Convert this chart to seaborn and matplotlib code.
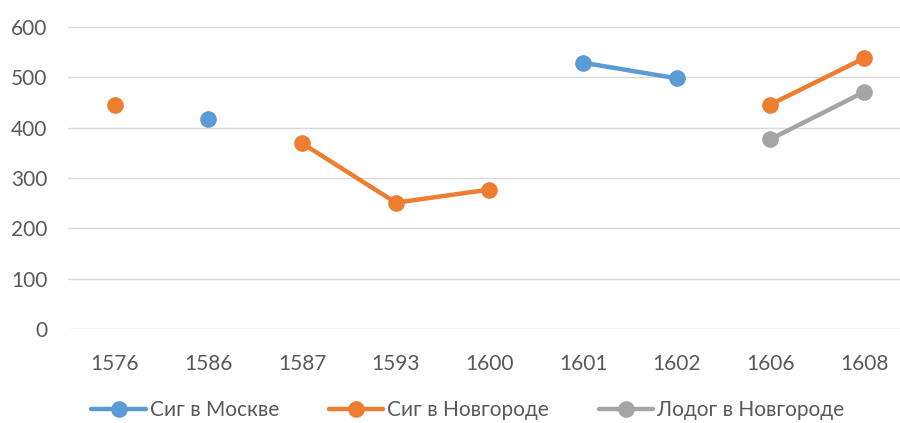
import matplotlib
matplotlib.use('Agg')
import matplotlib.pyplot as plt
import seaborn as sns
import pandas as pd

years = ['1576', '1586', '1587', '1593', '1600', '1601', '1602', '1606', '1608']
series_names = ['Сиг в Москве', 'Сиг в Новгороде', 'Лодог в Новгороде']
sig_moscow = [None, 418, None, None, None, 529, 498, None, None]
sig_novgorod = [446, None, 369, 251, 277, None, None, 446, 538]
lodog_novgorod = [None, None, None, None, None, None, None, 377, 471]
colors = ['#5b9bd5', '#ed7d31', '#a5a5a5']

# long form, with a segment id so gaps are not bridged
rows = []
for name, vals in zip(series_names, [sig_moscow, sig_novgorod, lodog_novgorod]):
    seg = 0
    prev = None
    for i, v in enumerate(vals):
        if v is None:
            prev = None
            continue
        if prev is None:
            seg += 1
        rows.append({'pos': i, 'value': v, 'series': name, 'segment': name + str(seg)})
        prev = v
df = pd.DataFrame(rows)

sns.set_style('white')
plt.rcParams['font.family'] = ['Lato', 'DejaVu Sans']

fig = plt.figure(figsize=(9, 4.23), dpi=100)
ax = fig.add_axes([68 / 900, 94 / 423, 843 / 900, 302 / 423])

sns.lineplot(data=df, x='pos', y='value', hue='series', hue_order=series_names,
             units='segment', estimator=None, palette=colors, marker='o',
             markersize=12, markeredgewidth=0, linewidth=3.2, ax=ax,
             legend=False, clip_on=False)

ax.set_xlim(-0.5, len(years) - 0.5)
ax.set_ylim(0, 600)
ax.set_yticks(range(0, 601, 100))
ax.set_xticks(range(len(years)))
ax.set_xticklabels(years)
ax.grid(axis='y', color='#d9d9d9', linewidth=1)
ax.set_axisbelow(True)
for s in ax.spines.values():
    s.set_visible(False)
ax.tick_params(axis='both', length=0, labelsize=15, colors='#595959')
ax.tick_params(axis='x', pad=18)
ax.tick_params(axis='y', pad=15)
ax.set_xlabel('')
ax.set_ylabel('')

handles = [plt.Line2D([], [], color=c, marker='o', markersize=12, markeredgewidth=0,
                      linewidth=3.2) for c in colors]
fig.legend(handles, series_names, loc='center', bbox_to_anchor=(0.52, 0.03),
           ncol=3, frameon=False, fontsize=15, labelcolor='#595959',
           handlelength=2.6, handletextpad=0.2, columnspacing=2.4)

fig.savefig('out.png', dpi=100)
